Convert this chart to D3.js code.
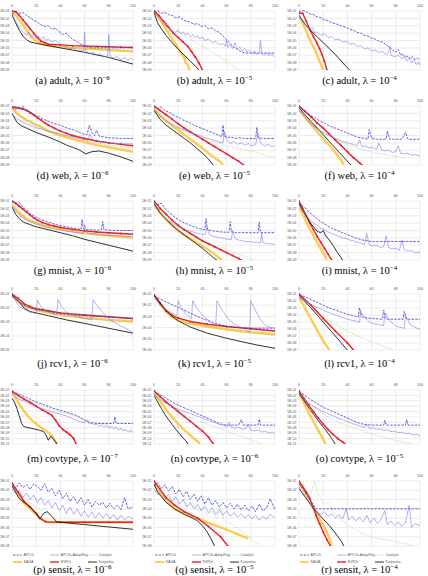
<!DOCTYPE html>
<html lang="en">
<head>
  <meta charset="UTF-8">
  <title>Convergence plots</title>
  <script src="https://d3js.org/d3.v7.min.js"></script>
  <style>
    html, body { margin: 0; background: #fff; }
    svg { display: block; }
    .tick-label { font-family: "Liberation Sans", Arial, sans-serif; font-size: 3.6px; fill: #595959; }
    .legend-label { font-family: "Liberation Sans", Arial, sans-serif; font-size: 3.6px; fill: #595959; }
    .caption { font-family: "Liberation Serif", "DejaVu Serif", serif; font-size: 10.5px; fill: #000; }
  </style>
</head>
<body>
  <svg width="428" height="576"></svg>
  <script>
    // series order used by every panel array below
    const seriesNames = ["APCG", "APCG+AdapReg", "Catalyst", "SAGA", "SVRG", "Katyusha"];
    const xTicks = [0, 20, 40, 60, 80, 100];

    // panel captions, dataset + lambda exponent, lowest decade on y axis
    const letters = ["a","b","c","d","e","f","g","h","i","j","k","l","m","n","o","p","q","r"];
    const datasets = ["adult","adult","adult","web","web","web","mnist","mnist","mnist",
                      "rcv1","rcv1","rcv1","covtype","covtype","covtype","sensit","sensit","sensit"];
    const lambdas = [-6,-5,-4,-6,-5,-4,-6,-5,-4,-6,-5,-4,-7,-6,-5,-6,-5,-4];
    const yMins = [-9,-9,-9,-9,-9,-9,-9,-9,-9,-5,-6,-9,-11,-11,-11,-8,-8,-8];

    // each series: flat list x, log10(objective gap), x, log10(gap), ...
    const adult6 = [
      [0,-1.4,3,-1.1,6,-1.3,9,-1.2,12,-1.6,15,-1.9,18,-2.3,21,-2.5,24,-2.9,27,-3.1,30,-3.0,33,-3.5,36,-3.3,39,-3.8,42,-4.2,45,-4.0,48,-4.6,51,-4.9,54,-5.2,57,-5.5,60,-5.8,63,-5.9,66,-6.0,70,-6.0,80,-6.0,90,-6.0,100,-6.0],
      [0,-1.6,3,-2.4,6,-3.2,9,-3.8,12,-4.3,14,-3.9,16,-4.5,18,-4.2,20,-4.7,22,-4.4,24,-4.9,26,-4.5,28,-5.0,30,-4.8,33,-5.2,36,-5.0,39,-5.4,42,-5.7,45,-5.9,48,-6.1,51,-6.0,54,-6.4,57,-6.3,59,-6.5,60,-3.9,61,-6.4,64,-6.8,67,-6.6,70,-7.0,73,-6.8,76,-7.2,79,-7.1,80,-4.2,81,-7.0,84,-7.4,87,-7.2,90,-7.6,93,-7.3,96,-7.7,98,-7.4,100,-7.6],
      [0,-1.6,5,-2.6,10,-3.6,15,-4.6,20,-5.2,25,-5.5,30,-5.7,40,-5.8,50,-5.9,60,-6.0,70,-6.1,80,-6.2,90,-6.3,100,-6.4],
      [0,-1.2,4,-1.8,8,-2.6,12,-3.6,16,-4.5,20,-5.1,25,-5.5,30,-5.7,40,-5.9,50,-6.0,60,-6.1,70,-6.2,80,-6.3,90,-6.4,100,-6.5],
      [0,-1.0,3,-1.1,6,-1.6,9,-2.2,12,-2.8,15,-3.4,18,-4.0,21,-4.6,24,-5.1,27,-5.3,30,-5.5,40,-5.6,50,-5.7,60,-5.75,70,-5.8,80,-5.85,90,-5.9,100,-5.95],
      [0,-1.5,3,-2.6,6,-3.6,9,-4.4,12,-4.9,15,-5.2,20,-5.4,30,-5.7,40,-6.0,50,-6.3,60,-6.6,70,-6.95,80,-7.3,90,-7.75,100,-8.2]
    ];
    const adult5 = [
      [0,-1.1,3,-1.0,6,-1.3,9,-1.2,12,-1.5,15,-1.6,18,-1.9,21,-1.8,24,-2.2,27,-2.4,30,-2.5,33,-2.8,36,-2.7,39,-3.1,42,-3.0,45,-3.4,48,-3.3,51,-3.7,54,-3.9,57,-4.4,60,-4.9,63,-5.4,66,-5.9,69,-6.2,72,-6.5,75,-6.7,80,-6.7,90,-6.7,100,-6.7],
      [0,-1.3,3,-1.8,6,-2.4,9,-2.9,12,-3.3,15,-3.6,18,-3.9,20,-3.6,22,-4.1,24,-3.8,26,-4.3,28,-4.0,30,-4.5,32,-4.2,34,-4.6,36,-4.3,38,-4.8,40,-4.5,42,-5.0,45,-4.8,48,-5.3,51,-5.1,54,-5.6,57,-5.4,59,-5.8,60,-4.9,61,-5.9,63,-5.5,65,-6.1,67,-5.3,69,-6.2,71,-5.9,73,-6.4,75,-6.1,77,-6.6,79,-6.3,81,-6.8,83,-6.4,85,-6.9,87,-6.6,88,-5.0,89,-6.8,91,-7.0,93,-6.7,95,-7.1,97,-6.8,100,-7.3],
      [0,-1.2,5,-2.0,10,-2.6,15,-3.2,20,-3.8,25,-4.3,30,-4.8,35,-5.3,40,-5.8,45,-6.3,50,-6.8,55,-7.3,60,-7.8,65,-8.4,70,-9.0],
      [0,-1.0,3,-1.6,6,-2.4,9,-3.2,12,-4.0,15,-4.8,18,-5.5,21,-6.3,23,-6.9,25,-7.3,26,-8.0,28,-8.3,29,-8.9,30,-9.0],
      [0,-1.0,4,-1.6,8,-2.4,12,-3.2,16,-4.0,20,-4.6,24,-5.2,28,-5.8,31,-6.5,34,-7.2,37,-8.0,40,-9.0],
      [0,-1.2,3,-2.6,6,-3.4,10,-4.3,15,-5.3,20,-6.2,25,-7.0,30,-7.8,35,-8.6,37,-9.0]
    ];
    const adult4 = [
      [0,-1.1,3,-0.9,6,-1.1,9,-1.4,12,-1.5,15,-1.8,18,-1.9,21,-2.2,24,-2.3,27,-2.6,30,-2.7,33,-2.9,36,-3.1,39,-3.2,42,-3.5,45,-3.6,48,-3.9,51,-4.0,54,-4.3,57,-4.4,60,-4.7,63,-4.8,66,-5.1,69,-5.2,72,-5.6,75,-5.9,78,-6.4,80,-6.6,82,-6.2,84,-7.0,86,-6.8,88,-7.3,90,-7.1,92,-7.5,94,-7.2,96,-7.6,98,-7.4,100,-7.6],
      [0,-1.6,3,-2.4,6,-3.0,9,-3.5,11,-3.2,13,-4.0,15,-3.8,18,-4.3,21,-4.1,24,-4.6,27,-4.5,30,-4.9,33,-4.8,36,-5.2,39,-5.1,42,-5.5,45,-5.4,48,-5.8,51,-5.7,54,-6.1,57,-6.0,60,-6.4,63,-6.3,66,-6.6,69,-6.5,72,-6.9,74,-6.6,75,-5.8,76,-7.0,79,-7.2,82,-7.0,85,-7.5,87,-7.2,89,-7.8,91,-7.4,93,-8.0,95,-7.6,97,-8.3,99,-7.9,100,-8.4],
      [0,-2.0,5,-2.8,10,-3.6,15,-4.4,20,-5.2,25,-6.0,30,-6.8,34,-7.6,37,-8.3,39,-7.9,41,-9.0],
      [0,-1.6,2,-2.3,4,-3.0,6,-3.8,8,-4.6,10,-5.2,12,-5.9,14,-6.6,16,-7.4,18,-8.2,20,-9.0],
      [0,-1.3,3,-1.3,6,-2.4,9,-3.5,12,-4.5,15,-5.4,17,-6.1,19,-6.9,21,-7.8,23,-9.0],
      [0,-1.6,5,-2.8,10,-3.7,15,-4.5,20,-5.3,25,-6.1,30,-6.9,35,-7.8,40,-8.7,42,-9.0]
    ];
    const web6 = [
      [0,-1.2,3,-1.5,5,-1.1,7,-1.4,9,-1.0,11,-1.5,14,-1.7,17,-2.0,20,-2.3,23,-2.5,26,-2.8,29,-3.0,32,-3.2,35,-3.4,38,-3.5,41,-3.7,44,-3.9,47,-4.1,50,-4.2,53,-4.4,56,-4.6,59,-4.8,62,-4.9,64,-3.6,66,-4.6,68,-5.0,70,-4.3,72,-5.1,76,-5.2,80,-5.3,85,-5.35,90,-5.4,100,-5.4],
      [0,-2.0,3,-2.6,6,-2.9,9,-3.2,12,-3.4,15,-3.6,18,-3.8,21,-4.0,24,-4.1,27,-4.3,30,-4.4,35,-4.6,40,-4.8,45,-5.0,50,-5.2,55,-5.4,60,-5.6,63,-5.7,64,-4.8,66,-5.4,68,-5.8,70,-5.6,72,-5.9,76,-5.8,80,-6.0,85,-6.05,90,-6.1,100,-6.15],
      [0,-1.5,5,-2.2,10,-2.8,15,-3.3,20,-3.7,30,-4.4,40,-4.9,50,-5.3,60,-5.7,70,-6.0,80,-6.3,90,-6.5,100,-6.7],
      [0,-1.2,3,-1.8,6,-2.3,9,-2.6,12,-2.9,15,-3.1,18,-3.4,21,-3.6,25,-3.9,30,-4.4,35,-4.7,40,-5.0,50,-5.5,60,-5.9,70,-6.3,80,-6.6,90,-6.9,100,-7.2],
      [0,-1.1,3,-1.2,6,-1.3,9,-1.4,12,-1.6,15,-1.9,18,-2.2,21,-2.6,24,-2.9,27,-3.3,30,-3.6,35,-4.0,40,-4.4,45,-4.7,50,-5.0,60,-5.4,70,-5.75,80,-6.0,90,-6.2,100,-6.4],
      [0,-2.0,4,-3.2,8,-3.7,12,-4.0,20,-4.6,30,-5.2,40,-5.9,45,-6.3,50,-6.6,55,-6.9,61,-7.5,66,-7.2,72,-7.1,80,-7.4,90,-7.9,100,-8.5]
    ];
    const web5 = [
      [0,-1.1,3,-1.4,6,-1.1,9,-1.6,12,-1.8,15,-2.1,18,-2.4,21,-2.6,24,-2.9,27,-3.1,30,-3.3,33,-3.6,36,-3.8,39,-4.0,42,-4.2,45,-4.4,48,-4.6,51,-4.8,54,-5.0,56,-5.2,57,-3.6,58,-5.1,61,-5.3,64,-5.2,67,-5.4,70,-5.3,74,-5.4,78,-5.4,84,-5.4,85,-3.9,86,-5.3,90,-5.4,100,-5.4],
      [0,-1.4,3,-2.0,6,-2.5,9,-2.9,12,-3.2,15,-3.5,18,-3.8,21,-4.0,24,-4.2,27,-4.4,30,-4.6,33,-4.8,36,-4.9,39,-5.1,42,-5.3,45,-5.4,48,-5.6,51,-5.7,54,-5.9,57,-6.0,58,-4.4,60,-5.5,63,-6.1,66,-5.8,69,-6.2,72,-6.0,75,-6.3,78,-6.1,81,-6.4,84,-6.2,86,-4.8,88,-6.0,91,-6.4,94,-6.2,97,-6.5,100,-6.4],
      [0,-1.5,5,-2.3,10,-3.0,15,-3.5,20,-4.0,25,-4.4,30,-4.8,35,-5.1,40,-5.4,45,-5.7,50,-5.9,55,-6.1,60,-6.4,65,-6.6,70,-6.8,75,-6.9,80,-7.1,85,-7.3,90,-7.6,95,-7.8,100,-8.0],
      [0,-1.3,5,-2.3,10,-3.0,15,-3.7,20,-4.3,25,-4.9,30,-5.5,35,-6.1,40,-6.7,45,-7.4,50,-8.0,55,-8.6,57,-9.0],
      [0,-1.0,5,-1.6,10,-2.2,15,-2.8,20,-3.4,25,-4.0,30,-4.5,35,-5.0,40,-5.5,45,-6.0,50,-6.5,55,-7.0,60,-7.5,65,-8.0,70,-8.5,74,-9.0],
      [0,-1.6,5,-2.8,10,-3.6,15,-4.2,20,-4.8,25,-5.4,30,-6.0,35,-6.7,40,-7.4,45,-8.2,49,-9.0]
    ];
    const web4 = [
      [0,-1.1,3,-1.5,6,-1.9,9,-2.2,12,-2.5,15,-2.8,18,-3.1,21,-3.3,24,-3.6,27,-3.8,30,-4.0,33,-4.2,36,-4.4,39,-4.6,42,-4.8,45,-5.0,48,-5.2,51,-5.3,54,-5.4,57,-5.5,58,-4.2,60,-5.4,64,-5.5,72,-5.5,73,-4.4,75,-5.5,85,-5.5,88,-4.6,90,-5.5,100,-5.5],
      [0,-1.5,3,-2.2,6,-2.8,9,-3.3,12,-3.7,15,-4.1,18,-4.4,21,-4.7,24,-4.9,27,-5.2,30,-5.4,33,-5.6,36,-5.8,39,-5.9,42,-6.1,45,-6.2,48,-6.4,50,-5.6,52,-6.5,55,-6.4,58,-6.7,61,-6.6,64,-6.9,66,-6.0,68,-6.9,71,-7.1,74,-7.0,77,-7.3,80,-7.2,82,-6.4,84,-7.4,87,-7.5,90,-7.4,93,-7.7,96,-7.6,100,-7.8],
      [0,-1.6,5,-2.6,10,-3.4,15,-4.0,20,-4.6,25,-5.1,30,-5.5,35,-5.9,40,-6.2,45,-6.5,50,-6.8,55,-7.0,60,-7.2,65,-7.4,70,-7.5,75,-7.7,80,-7.8,85,-8.0],
      [0,-1.5,5,-2.5,10,-3.5,15,-4.5,20,-5.4,25,-6.3,30,-7.3,35,-8.4,37,-9.0],
      [0,-1.0,5,-1.7,10,-2.5,15,-3.3,20,-4.0,25,-4.8,30,-5.6,35,-6.4,40,-7.2,45,-8.0,50,-8.7,52,-9.0],
      [0,-1.2,5,-2.2,10,-3.1,15,-4.0,20,-4.9,25,-5.8,30,-6.7,35,-7.6,40,-8.5,43,-9.0]
    ];
    const mnist6 = [
      [0,-1.1,3,-1.4,6,-1.2,9,-1.8,12,-2.2,15,-2.7,18,-3.0,21,-3.3,24,-3.5,27,-3.7,30,-3.9,33,-4.0,36,-4.2,39,-4.3,42,-4.4,45,-4.5,48,-4.6,51,-4.7,54,-4.8,57,-4.85,58,-3.5,59,-4.8,62,-4.9,66,-4.9,70,-4.95,74,-4.9,75,-3.8,76,-4.9,80,-4.95,85,-5.0,100,-5.0],
      [0,-1.8,3,-2.4,6,-2.9,9,-3.3,12,-3.6,15,-3.8,18,-4.0,21,-4.2,24,-4.3,27,-4.5,30,-4.6,35,-4.8,40,-4.95,45,-5.1,50,-5.2,55,-5.3,59,-5.4,60,-4.2,62,-5.3,65,-5.45,70,-5.5,75,-5.6,80,-5.65,85,-5.7,90,-5.75,95,-5.8,100,-5.85],
      [0,-1.5,5,-2.4,10,-3.1,15,-3.6,20,-3.9,30,-4.3,40,-4.6,50,-4.85,60,-5.05,70,-5.2,80,-5.35,90,-5.5,100,-5.6],
      [0,-1.5,3,-2.1,6,-2.6,9,-3.0,12,-3.4,15,-3.7,20,-4.0,25,-4.3,30,-4.5,40,-4.8,50,-5.1,60,-5.35,70,-5.55,80,-5.7,90,-5.85,100,-6.0],
      [0,-1.0,3,-1.3,6,-1.7,9,-2.1,12,-2.5,15,-2.9,18,-3.3,21,-3.6,25,-3.9,30,-4.2,35,-4.4,40,-4.6,50,-4.85,60,-5.05,70,-5.2,80,-5.3,90,-5.4,100,-5.5],
      [0,-1.8,3,-2.8,6,-3.4,10,-3.9,15,-4.2,20,-4.5,30,-4.9,40,-5.3,50,-5.7,60,-6.2,70,-6.6,80,-7.0,90,-7.4,100,-7.8]
    ];
    const mnist5 = [
      [0,-1.1,3,-1.5,6,-1.3,9,-2.0,12,-2.5,15,-2.9,18,-3.3,21,-3.6,24,-3.9,27,-4.1,30,-4.3,33,-4.5,36,-4.7,39,-4.8,42,-4.9,43,-3.4,44,-4.9,47,-5.0,50,-5.1,53,-5.15,56,-5.2,62,-5.25,63,-3.8,64,-5.2,68,-5.3,86,-5.3,87,-3.9,88,-5.3,100,-5.3],
      [0,-1.5,3,-2.2,6,-2.8,9,-3.3,12,-3.7,15,-4.0,18,-4.3,21,-4.5,24,-4.7,27,-4.9,30,-5.1,33,-5.2,36,-5.4,39,-5.5,42,-5.6,44,-4.5,46,-5.6,49,-5.8,52,-5.9,55,-6.0,58,-6.1,61,-6.2,64,-6.2,65,-5.0,67,-6.1,70,-6.3,73,-6.4,76,-6.5,79,-6.5,82,-6.6,85,-6.6,88,-6.7,89,-5.4,90,-6.6,93,-6.8,96,-6.8,100,-6.9],
      [0,-1.5,5,-2.4,10,-3.2,15,-3.9,20,-4.5,25,-5.0,30,-5.5,35,-5.9,40,-6.3,45,-6.7,50,-7.0,55,-7.3,60,-7.6,65,-7.9,70,-8.2,75,-8.5,80,-8.8,83,-9.0],
      [0,-1.5,5,-2.6,10,-3.5,15,-4.3,20,-5.0,25,-5.6,30,-6.1,35,-6.6,40,-7.1,45,-7.6,50,-8.2,53,-8.6,56,-9.0],
      [0,-1.0,5,-2.0,10,-2.8,15,-3.6,20,-4.3,25,-4.9,30,-5.4,35,-5.9,40,-6.4,45,-6.8,50,-7.2,55,-7.6,60,-8.0,65,-8.4,70,-8.8,72,-9.0],
      [0,-1.3,5,-2.6,10,-3.5,15,-4.3,20,-5.0,25,-5.6,30,-6.2,35,-6.8,40,-7.4,45,-8.1,50,-8.8,52,-9.0]
    ];
    const mnist4 = [
      [0,-1.2,3,-1.6,6,-2.1,9,-2.6,12,-3.0,15,-3.4,18,-3.8,21,-4.1,24,-4.4,27,-4.7,30,-4.9,33,-5.1,36,-5.3,39,-5.5,42,-5.7,45,-5.9,48,-6.1,51,-6.2,54,-6.35,57,-6.4,60,-6.5,100,-6.5],
      [0,-1.5,3,-2.3,6,-3.0,9,-3.5,12,-4.0,15,-4.3,18,-4.7,21,-4.9,24,-5.2,27,-5.4,30,-5.6,33,-5.8,36,-6.0,39,-6.1,42,-6.3,45,-6.4,48,-6.6,51,-6.7,54,-6.9,56,-5.4,58,-6.9,61,-7.1,64,-7.0,67,-7.3,70,-7.2,72,-5.7,74,-7.3,77,-7.5,80,-7.4,83,-7.7,85,-6.3,87,-7.6,90,-7.8,93,-7.7,96,-8.0,100,-7.9],
      [0,-1.8,5,-2.9,10,-3.9,15,-4.7,20,-5.5,25,-6.2,30,-6.9,35,-7.6,40,-8.3,44,-9.0],
      [0,-1.8,3,-2.8,6,-3.8,9,-4.8,12,-5.7,15,-6.6,18,-7.5,21,-8.3,23,-9.0],
      [0,-1.0,3,-2.0,6,-3.0,9,-4.0,12,-4.9,15,-5.8,18,-6.6,21,-7.4,24,-8.2,27,-9.0],
      [0,-1.3,3,-2.3,6,-3.1,9,-3.9,12,-4.5,15,-5.1,18,-5.3,20,-5.0,22,-5.7,25,-6.3,28,-7.0,31,-7.8,34,-8.5,36,-9.0]
    ];
    const rcv16 = [
      [0,-1.15,5,-1.5,10,-1.8,15,-2.0,20,-2.1,30,-2.25,40,-2.4,50,-2.5,60,-2.55,70,-2.6,80,-2.65,90,-2.7,100,-2.75],
      [0,-1.1,3,-1.5,6,-1.9,10,-2.1,15,-2.3,20,-2.4,21,-1.45,24,-1.9,28,-2.2,32,-2.35,37,-2.5,38,-1.4,41,-1.9,45,-2.3,50,-2.5,55,-2.65,60,-2.75,66,-2.85,67,-1.4,70,-1.8,75,-2.3,80,-2.75,85,-3.05,90,-3.3,95,-3.5,100,-3.75],
      [0,-1.1,5,-1.5,10,-1.8,15,-2.0,20,-2.15,30,-2.3,40,-2.45,50,-2.6,60,-2.7,70,-2.8,80,-2.9,90,-2.95,100,-3.0],
      [0,-1.1,5,-1.5,10,-1.85,20,-2.15,30,-2.35,40,-2.5,60,-2.7,80,-2.85,100,-2.95],
      [0,-1.0,5,-1.3,10,-1.7,15,-1.9,20,-2.05,30,-2.2,40,-2.35,60,-2.5,80,-2.62,100,-2.75],
      [0,-1.05,5,-1.5,10,-2.0,15,-2.25,20,-2.35,30,-2.55,45,-2.85,60,-3.1,80,-3.45,100,-3.8]
    ];
    const rcv15 = [
      [0,-1.2,10,-1.7,20,-2.2,30,-2.7,40,-3.2,50,-3.6,60,-3.9,70,-4.0,80,-4.05,100,-4.05],
      [0,-1.3,5,-2.0,10,-2.4,15,-2.7,19,-2.9,20,-1.6,23,-2.3,27,-2.9,31,-3.2,32,-1.6,36,-2.4,42,-3.1,47,-3.5,51,-3.8,52,-1.6,56,-2.4,62,-3.3,68,-3.8,74,-4.1,79,-4.4,80,-1.6,84,-2.5,88,-3.3,92,-3.8,96,-4.0,100,-4.05],
      [0,-1.2,10,-2.4,20,-3.2,40,-3.8,60,-4.2,80,-4.5,100,-4.7],
      [0,-1.0,5,-1.9,10,-2.6,15,-3.05,20,-3.35,30,-3.65,44,-3.9,60,-4.15,80,-4.4,100,-4.6],
      [0,-1.1,5,-1.8,10,-2.5,15,-2.9,20,-3.15,30,-3.45,44,-3.7,60,-3.9,80,-4.1,100,-4.3],
      [0,-1.1,5,-1.8,10,-2.5,15,-3.0,20,-3.4,30,-3.95,44,-4.5,60,-4.95,72,-5.25,85,-5.55,100,-5.85]
    ];
    const rcv14 = [
      [0,-1.1,5,-1.4,10,-1.8,15,-2.2,20,-2.6,25,-3.0,30,-3.3,35,-3.6,40,-3.9,45,-4.1,49,-4.3,50,-3.0,52,-4.3,60,-4.5,69,-4.6,70,-3.3,72,-4.6,86,-4.6,87,-3.5,89,-4.6,100,-4.6],
      [0,-1.5,5,-2.0,10,-2.5,15,-2.9,20,-3.3,25,-3.7,30,-4.0,35,-4.3,40,-4.6,45,-4.8,50,-5.0,51,-3.5,55,-4.5,60,-5.2,65,-5.35,70,-5.5,71,-3.7,75,-4.8,80,-5.6,87,-5.9,88,-4.1,92,-5.4,96,-5.8,100,-6.0],
      [0,-1.5,10,-3.0,20,-4.3,30,-5.3,40,-6.3,50,-7.1,60,-7.8,70,-8.5,78,-9.0],
      [0,-1.5,5,-3.0,10,-4.6,15,-6.2,20,-7.7,25,-9.0],
      [0,-1.0,10,-2.6,20,-4.5,30,-6.3,40,-8.0,45,-9.0],
      [0,-1.2,10,-3.0,20,-5.0,30,-7.0,40,-9.0]
    ];
    const covtype7 = [
      [0,-1.2,3,-1.5,6,-1.8,9,-2.1,12,-2.4,15,-2.7,18,-3.0,21,-3.3,24,-3.5,27,-3.8,30,-4.0,33,-4.3,36,-4.5,39,-4.7,42,-4.9,45,-5.1,48,-5.3,51,-5.5,54,-5.8,57,-6.2,60,-6.6,63,-6.9,66,-7.1,70,-7.2,84,-7.2,85,-6.0,86,-7.2,100,-7.2],
      [0,-1.8,3,-2.3,6,-2.7,9,-3.0,12,-3.3,15,-3.6,18,-3.9,21,-4.2,24,-4.4,27,-4.6,30,-4.8,33,-5.0,36,-5.2,39,-5.4,42,-5.6,45,-5.8,48,-6.1,51,-6.4,54,-6.7,57,-6.9,60,-7.1,62,-6.6,64,-7.3,66,-7.1,68,-7.5,70,-7.3,72,-7.7,74,-7.5,76,-7.9,78,-7.6,80,-8.0,82,-7.8,84,-8.2,86,-7.9,88,-8.4,90,-8.1,92,-8.6,94,-8.3,96,-8.8,98,-8.4,100,-8.9],
      [0,-1.5,10,-2.5,20,-3.5,30,-4.3,40,-5.0,50,-5.7,60,-6.4,70,-7.0,80,-7.6,90,-8.2,100,-8.8],
      [0,-1.5,3,-2.5,6,-3.6,9,-4.6,12,-5.5,15,-6.3,18,-6.9,21,-7.4,24,-8.0,27,-8.4,30,-8.9,33,-9.5,35,-10.2,37,-11.0],
      [0,-1.3,5,-2.0,10,-2.7,15,-3.3,20,-4.0,25,-4.7,30,-5.3,33,-5.7,36,-6.6,39,-7.6,42,-8.3,45,-8.8,48,-9.3,51,-10.0,53,-11.0],
      [0,-2.5,2,-3.2,4,-4.4,6,-5.8,8,-7.2,10,-7.8,14,-8.0,18,-8.2,22,-8.4,26,-8.7,28,-9.3,30,-10.3,32,-9.6,34,-10.0,36,-10.6,37,-11.0]
    ];
    const covtype6 = [
      [0,-1.2,3,-1.6,6,-2.0,9,-2.4,12,-2.8,15,-3.2,18,-3.6,21,-3.9,24,-4.2,27,-4.5,30,-4.8,33,-5.1,36,-5.4,39,-5.7,42,-6.0,45,-6.3,48,-6.6,51,-6.9,54,-7.2,57,-7.4,60,-7.5,70,-7.5,72,-6.5,74,-7.5,86,-7.5,87,-6.4,88,-7.5,100,-7.5],
      [0,-1.8,3,-2.4,6,-2.9,9,-3.3,12,-3.7,15,-4.0,18,-4.4,21,-4.6,24,-4.9,27,-5.1,30,-5.4,33,-5.6,36,-5.9,39,-6.1,42,-6.4,45,-6.6,48,-6.9,51,-7.1,54,-7.4,57,-7.5,60,-7.8,62,-7.0,64,-7.9,67,-8.1,70,-7.9,73,-8.3,76,-8.1,78,-7.3,80,-8.4,83,-8.6,86,-8.4,89,-8.8,92,-8.6,95,-9.0,98,-8.8,100,-9.1],
      [0,-1.6,5,-2.6,10,-3.5,15,-4.2,20,-4.9,25,-5.5,30,-6.0,35,-6.5,40,-7.0,45,-7.4,50,-7.8,55,-8.2,60,-8.6,65,-9.0,70,-9.4,75,-9.8,80,-10.2,85,-10.6,89,-11.0],
      [0,-1.5,4,-2.8,8,-4.0,12,-5.2,16,-6.3,20,-7.3,24,-8.2,28,-9.0,32,-9.8,36,-10.5,38,-11.0],
      [0,-1.2,5,-2.2,10,-3.2,15,-4.1,20,-5.0,25,-5.9,30,-6.8,35,-7.7,40,-8.6,45,-9.7,49,-11.0],
      [0,-2.0,3,-3.2,6,-4.4,9,-5.5,12,-6.5,15,-7.4,18,-8.3,21,-9.1,24,-9.9,27,-10.6,28,-11.0]
    ];
    const covtype5 = [
      [0,-1.2,3,-1.7,6,-2.2,9,-2.7,12,-3.1,15,-3.5,18,-3.9,21,-4.3,24,-4.6,27,-4.9,30,-5.2,33,-5.5,36,-5.8,39,-6.1,42,-6.4,45,-6.7,48,-7.0,51,-7.2,54,-7.4,60,-7.5,70,-7.5,71,-6.6,72,-7.5,88,-7.5,89,-6.5,90,-7.5,100,-7.5],
      [0,-1.8,3,-2.5,6,-3.1,9,-3.6,12,-4.0,15,-4.4,18,-4.8,21,-5.1,24,-5.4,27,-5.7,30,-6.0,33,-6.3,36,-6.5,39,-6.8,42,-7.0,45,-7.3,48,-7.5,51,-7.7,54,-7.9,56,-7.3,58,-8.1,61,-8.0,64,-8.3,67,-8.2,70,-8.5,73,-8.4,76,-8.7,79,-8.6,82,-8.9,85,-8.8,88,-9.1,91,-9.0,94,-9.3,97,-9.2,100,-9.5],
      [0,-1.6,5,-2.7,10,-3.7,15,-4.6,20,-5.4,25,-6.1,30,-6.7,35,-7.2,40,-7.6,45,-8.0,50,-8.4,55,-8.8,60,-9.1,65,-9.4,70,-9.7,75,-10.0,80,-10.3,85,-10.6,90,-10.8,93,-11.0],
      [0,-1.5,3,-2.9,6,-4.3,9,-5.6,12,-6.9,15,-8.1,18,-9.3,20,-10.1,22,-11.0],
      [0,-1.2,4,-2.5,8,-3.8,12,-5.0,16,-6.2,20,-7.3,24,-8.3,28,-9.2,32,-10.0,36,-10.6,38,-11.0],
      [0,-1.6,3,-2.6,6,-3.6,9,-4.6,12,-5.5,15,-6.4,18,-7.3,21,-8.1,24,-9.0,27,-10.0,30,-11.0]
    ];
    const sensit6 = [
      [0,-1.3,3,-1.8,6,-1.2,9,-1.7,12,-1.4,15,-1.9,18,-1.3,21,-1.6,24,-2.0,27,-1.3,30,-2.2,33,-1.8,36,-2.6,39,-2.0,42,-2.9,45,-2.3,48,-3.2,51,-2.7,54,-3.4,57,-2.8,60,-3.6,63,-3.0,66,-3.8,69,-3.2,72,-3.6,75,-3.3,78,-3.9,81,-3.4,84,-4.0,87,-3.6,90,-4.1,93,-2.8,96,-4.0,100,-3.8],
      [0,-1.8,3,-2.4,6,-2.0,9,-2.8,12,-2.3,15,-3.0,18,-2.5,21,-3.3,24,-2.8,27,-3.6,30,-3.1,33,-3.9,36,-3.3,39,-4.2,42,-3.6,45,-4.5,48,-3.8,51,-4.6,54,-4.0,57,-4.8,60,-4.2,63,-4.9,66,-4.3,69,-5.0,72,-4.4,75,-5.0,78,-4.5,81,-5.1,84,-4.6,87,-5.2,90,-4.7,93,-5.2,96,-4.8,100,-5.1],
      [0,-1.5,5,-2.2,10,-2.8,15,-3.3,20,-3.8,25,-4.2,28,-4.0,31,-4.8,35,-5.3,40,-5.45,100,-5.45],
      [0,-1.3,5,-2.4,10,-3.4,15,-4.0,20,-4.6,25,-5.2,30,-5.45,40,-5.45,60,-5.45,80,-5.45,100,-5.45],
      [0,-1.2,5,-2.2,10,-3.2,15,-3.8,20,-4.5,23,-5.0,28,-5.4,40,-5.45,60,-5.45,80,-5.45,100,-5.45],
      [0,-1.5,6,-2.9,12,-3.5,15,-3.8,20,-4.5,23,-5.1,26,-4.5,29,-4.3,33,-4.8,37,-5.4,60,-5.7,80,-5.95,100,-6.2]
    ];
    const sensit5 = [
      [0,-1.5,3,-1.2,6,-1.8,9,-1.4,12,-2.1,15,-1.6,18,-2.4,21,-1.9,24,-2.7,27,-2.1,30,-3.0,33,-2.4,36,-3.2,39,-2.6,42,-3.5,45,-2.8,48,-3.6,51,-3.1,54,-3.8,57,-3.3,60,-3.9,63,-3.4,66,-4.0,69,-3.5,72,-4.1,75,-3.6,78,-4.2,81,-3.7,84,-4.3,87,-3.5,90,-4.2,93,-3.9,96,-2.9,100,-4.1],
      [0,-1.8,3,-2.5,6,-2.1,9,-2.9,12,-2.4,15,-3.2,18,-2.7,21,-3.5,24,-3.0,27,-3.8,30,-3.3,33,-4.0,36,-3.5,39,-4.2,42,-3.7,45,-4.4,48,-3.9,51,-4.6,54,-4.1,57,-4.7,60,-4.2,63,-4.8,66,-4.4,69,-4.9,72,-4.5,75,-5.0,78,-4.6,81,-5.1,84,-4.7,87,-5.2,90,-4.8,93,-5.1,96,-4.6,100,-5.0],
      [0,-1.5,5,-2.2,10,-2.7,15,-3.1,20,-3.5,25,-3.0,28,-3.8,32,-3.3,36,-4.2,40,-3.9,44,-4.6,48,-4.3,52,-5.0,55,-3.8,58,-5.2,62,-5.5,66,-5.8,70,-6.2,74,-6.6,78,-7.0,82,-7.4,86,-7.8,88,-8.0],
      [0,-1.4,5,-2.3,10,-3.1,17,-4.0,25,-4.5,35,-5.0,45,-5.5,55,-6.0,65,-6.5,78,-7.2],
      [0,-1.0,5,-1.9,10,-2.8,17,-3.6,25,-4.3,36,-5.0,45,-5.9,55,-7.0,61,-8.0],
      [0,-1.3,3,-2.2,10,-3.3,17,-4.0,25,-4.6,32,-5.0,36,-5.3,40,-5.8,44,-6.5,47,-7.2,50,-8.0]
    ];
    const sensit4 = [
      [0,-1.3,3,-1.8,6,-2.4,9,-3.0,12,-3.6,14,-4.0,40,-4.0,60,-4.0,80,-4.0,100,-4.0],
      [0,-1.6,3,-2.4,6,-2.9,9,-3.4,12,-3.9,15,-4.3,18,-4.6,21,-4.3,24,-4.8,27,-4.5,30,-5.0,33,-4.6,36,-5.1,39,-4.0,41,-5.2,44,-4.8,47,-5.3,50,-4.9,53,-5.4,56,-4.7,59,-5.5,62,-5.0,65,-5.6,68,-5.1,71,-4.2,73,-5.7,76,-5.3,79,-5.8,82,-5.4,85,-5.9,88,-5.5,91,-3.6,93,-6.0,96,-5.6,100,-5.8],
      [0,-1.5,3,-1.2,6,-2.0,9,-2.6,11,-1.9,13,-1.0,15,-2.2,18,-2.9,21,-3.5,24,-3.3,27,-4.0,30,-4.6,35,-5.2,40,-5.7,45,-6.1,50,-6.5,55,-6.8,60,-7.0,65,-7.2,70,-7.3,75,-7.4,80,-7.5,85,-7.7,90,-7.8,95,-8.0],
      [0,-1.2,3,-1.8,6,-2.6,9,-3.3,12,-4.0,15,-4.6,18,-5.3,21,-6.0,24,-6.8,27,-8.0],
      [0,-1.0,3,-1.6,6,-2.2,9,-2.9,12,-3.9,14,-4.7,17,-5.6,20,-6.5,23,-7.3,26,-8.0],
      [0,-1.8,5,-2.7,10,-3.6,15,-4.4,20,-5.1,25,-5.8,30,-6.6,35,-7.5,37,-8.0]
    ];
    const panelData = [adult6, adult5, adult4, web6, web5, web4, mnist6, mnist5, mnist4,
                       rcv16, rcv15, rcv14, covtype7, covtype6, covtype5, sensit6, sensit5, sensit4];

    // layout
    const colLeft = [12, 154, 299];
    const plotW = 121;
    const rowTop = [11, 106, 201, 294, 390, 481];
    const rowBottom = [70, 165, 260, 350, 444, 546];
    const capY = [84, 179, 274, 367, 462, 573];

    const styles = [
      { color: "#3a3ad6", width: 0.8, dash: "2.5,1.2" },
      { color: "#6f6ff2", width: 0.55, dash: null },
      { color: "#9bc95a", width: 0.6, dash: "1,1" },
      { color: "#ffc233", width: 2.4, dash: null },
      { color: "#e8202a", width: 1.4, dash: null },
      { color: "#1a1a1a", width: 0.9, dash: null }
    ];
    const drawOrder = [3, 2, 4, 5, 0, 1];

    const svg = d3.select("svg");
    const fmt = e => "1E-" + String(-e).padStart(2, "0");

    panelData.forEach((series, i) => {
      const row = Math.floor(i / 3), col = i % 3;
      const left = colLeft[col], top = rowTop[row], bottom = rowBottom[row];
      const x = d3.scaleLinear().domain([0, 100]).range([left, left + plotW]);
      const y = d3.scaleLinear().domain([yMins[i], -1]).range([bottom, top]);
      const g = svg.append("g");

      const clipId = "clip" + i;
      svg.append("clipPath").attr("id", clipId)
        .append("rect").attr("x", left).attr("y", top - 1)
        .attr("width", plotW).attr("height", bottom - top + 1);

      const decades = d3.range(yMins[i], 0);
      g.selectAll(".hg").data(decades).enter().append("line")
        .attr("x1", left).attr("x2", left + plotW)
        .attr("y1", d => y(d)).attr("y2", d => y(d))
        .attr("stroke", "#d9d9d9").attr("stroke-width", 0.5);
      g.selectAll(".vg").data(xTicks).enter().append("line")
        .attr("x1", d => x(d)).attr("x2", d => x(d))
        .attr("y1", top).attr("y2", bottom)
        .attr("stroke", "#d9d9d9").attr("stroke-width", 0.5);

      g.selectAll(".xl").data(xTicks).enter().append("text")
        .attr("class", "tick-label")
        .attr("x", d => x(d)).attr("y", top - 4)
        .attr("text-anchor", "middle").text(d => d);
      g.selectAll(".yl").data(decades).enter().append("text")
        .attr("class", "tick-label")
        .attr("x", left - 2.5).attr("y", d => y(d) + 1.2)
        .attr("text-anchor", "end").text(fmt);

      const line = d3.line().x(d => x(d[0])).y(d => y(d[1]));
      const lg = g.append("g").attr("clip-path", `url(#${clipId})`);
      drawOrder.forEach(k => {
        const flat = series[k];
        const pts = d3.range(0, flat.length, 2).map(j => [flat[j], flat[j + 1]]);
        const st = styles[k];
        lg.append("path").datum(pts)
          .attr("d", line)
          .attr("fill", "none")
          .attr("stroke", st.color)
          .attr("stroke-width", st.width)
          .attr("stroke-opacity", k === 3 ? 0.85 : 1)
          .attr("stroke-dasharray", st.dash)
          .attr("stroke-linejoin", "round");
        if (k === 4) {
          lg.selectAll(".mk").data(pts).enter().append("circle")
            .attr("cx", d => x(d[0])).attr("cy", d => y(d[1]))
            .attr("r", 1).attr("fill", st.color);
        }
      });

      // caption
      const cap = svg.append("text").attr("class", "caption")
        .attr("x", left + plotW / 2).attr("y", capY[row])
        .attr("text-anchor", "middle");
      cap.append("tspan").text(`(${letters[i]}) ${datasets[i]}, λ = 10`);
      cap.append("tspan").attr("dy", -4).attr("font-size", "7px").text("−" + (-lambdas[i]));

      // legend under the bottom row
      if (row === 5) {
        const legX = [left + 1, left + 38, left + 76];
        const legY = [555, 562];
        seriesNames.forEach((name, k) => {
          const lx = legX[k % 3], ly = legY[Math.floor(k / 3)];
          const st = styles[k];
          svg.append("line")
            .attr("x1", lx).attr("x2", lx + 9).attr("y1", ly).attr("y2", ly)
            .attr("stroke", st.color).attr("stroke-width", Math.min(st.width, 1.6))
            .attr("stroke-dasharray", st.dash);
          svg.append("text").attr("class", "legend-label")
            .attr("x", lx + 10.5).attr("y", ly + 1.2).text(name);
        });
      }
    });
  </script>
</body>
</html>
